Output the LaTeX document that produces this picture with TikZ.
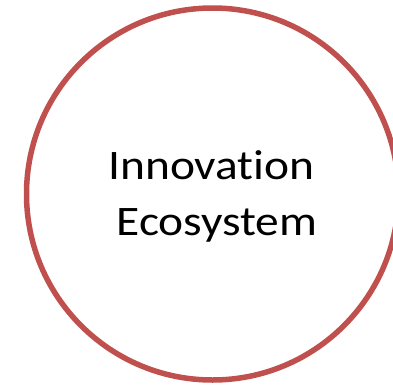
\documentclass[tikz,border=0pt]{standalone}
\usepackage{fontspec}
\setmainfont{Carlito}[Ligatures=NoCommon]
\usepackage{xcolor}
\usetikzlibrary{positioning}
\definecolor{ringred}{HTML}{C0504D}
\begin{document}
\begin{tikzpicture}[
        x=1pt, y=-1pt,
        % Define styles for the ring and its label
        ring/.style={draw=ringred, line width=5.5pt, circle, minimum size=372pt, inner sep=0pt},
        label/.style={align=center, inner sep=0pt, xscale=1.13, transform shape,
                      font=\fontsize{42}{56}\selectfont}
    ]

    % Fix the page to the picture size
    \useasboundingbox (0,0) rectangle (393,386);

    % Draw the ring
    \node[ring] (eco) at (212.5,194) {};

    % Place the text in the ring
    \node[label, anchor=base] (ecotext) at (211.5,235) {Innovation\\\hspace*{0.23em}Ecosystem};

    \end{tikzpicture}
\end{document}
